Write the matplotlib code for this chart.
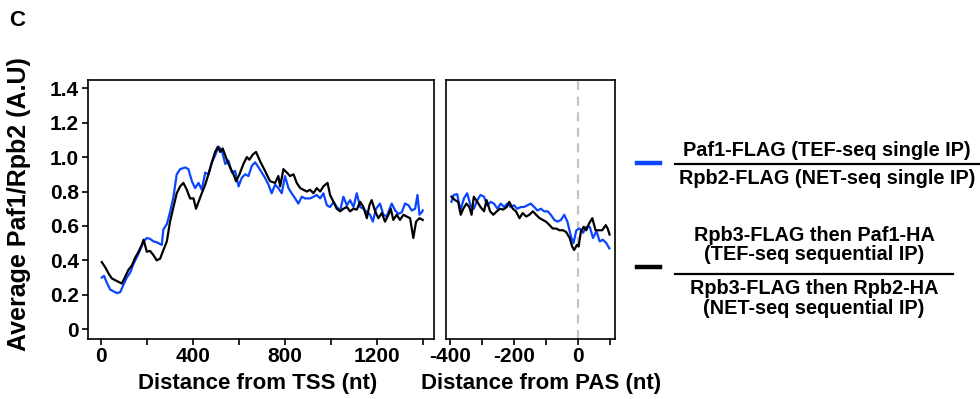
import matplotlib
matplotlib.use("Agg")
import matplotlib.pyplot as plt
from matplotlib.lines import Line2D
from matplotlib.ticker import FixedLocator

plt.rcParams['font.family'] = ['Liberation Sans', 'DejaVu Sans']
plt.rcParams['font.weight'] = 'bold'

# ---- data: distance from TSS (left panel) ----
tss_blue_x = [4, 14, 26, 41, 55, 70, 84, 99, 113, 128, 142, 157, 171, 186, 200, 214, 229, 243,
              265, 272, 287, 301, 316, 330, 345, 367, 381, 396, 410, 425, 439, 454, 468, 483,
              497, 512, 526, 541, 555, 570, 584, 599, 613, 628, 642, 657, 671, 686, 700, 714,
              729, 743, 758, 772, 787, 801, 816, 830, 845, 859, 874, 888, 910, 925, 939, 954,
              968, 983, 997, 1012, 1026, 1041, 1055, 1070, 1084, 1099, 1113, 1128, 1142, 1157,
              1171, 1183, 1197, 1214, 1229, 1243, 1265, 1280, 1294, 1309, 1323, 1338, 1352,
              1367, 1377, 1386, 1396, 1400]
tss_blue_y = [0.30, 0.31, 0.27, 0.23, 0.22, 0.21, 0.215, 0.26, 0.30, 0.33, 0.38, 0.42, 0.46,
              0.51, 0.53, 0.525, 0.51, 0.505, 0.49, 0.58, 0.61, 0.68, 0.77, 0.90, 0.93, 0.94,
              0.93, 0.86, 0.82, 0.85, 0.81, 0.91, 0.90, 0.97, 1.01, 1.06, 1.04, 0.96, 0.98,
              0.91, 0.92, 0.83, 0.88, 0.90, 0.89, 0.95, 0.97, 0.94, 0.91, 0.88, 0.84, 0.79,
              0.84, 0.82, 0.79, 0.89, 0.82, 0.79, 0.76, 0.73, 0.77, 0.76, 0.76, 0.77, 0.78,
              0.76, 0.79, 0.72, 0.71, 0.74, 0.71, 0.69, 0.77, 0.72, 0.75, 0.71, 0.79, 0.71,
              0.70, 0.68, 0.665, 0.625, 0.70, 0.73, 0.665, 0.655, 0.73, 0.69, 0.67, 0.68,
              0.73, 0.72, 0.69, 0.70, 0.78, 0.665, 0.68, 0.69]

tss_black_x = [4, 19, 33, 48, 62, 77, 91, 106, 120, 135, 149, 164, 178, 186, 200, 214, 229,
               243, 258, 272, 287, 301, 316, 330, 345, 359, 374, 388, 403, 414, 425, 439, 454,
               468, 483, 497, 509, 519, 530, 548, 562, 577, 588, 603, 620, 635, 646, 661, 675,
               693, 714, 736, 758, 772, 780, 794, 809, 823, 838, 852, 867, 881, 896, 910, 925,
               939, 954, 968, 986, 997, 1012, 1026, 1041, 1055, 1070, 1084, 1099, 1113, 1128,
               1142, 1157, 1168, 1178, 1193, 1207, 1222, 1236, 1251, 1261, 1272, 1287, 1301,
               1316, 1330, 1345, 1359, 1371, 1386, 1400]
tss_black_y = [0.39, 0.36, 0.325, 0.295, 0.285, 0.275, 0.265, 0.305, 0.345, 0.37, 0.415,
               0.45, 0.49, 0.52, 0.45, 0.455, 0.43, 0.40, 0.41, 0.46, 0.51, 0.625, 0.71, 0.79,
               0.83, 0.85, 0.81, 0.76, 0.76, 0.70, 0.74, 0.79, 0.84, 0.90, 0.97, 1.03, 1.06,
               1.03, 1.05, 0.985, 0.94, 0.90, 0.86, 0.90, 0.96, 1.00, 0.985, 1.015, 1.03,
               0.975, 0.92, 0.86, 0.85, 0.89, 0.83, 0.93, 0.91, 0.89, 0.90, 0.85, 0.82, 0.81,
               0.80, 0.81, 0.79, 0.82, 0.80, 0.83, 0.85, 0.78, 0.74, 0.70, 0.685, 0.70, 0.71,
               0.685, 0.70, 0.695, 0.74, 0.71, 0.645, 0.72, 0.75, 0.685, 0.645, 0.675, 0.625,
               0.665, 0.70, 0.635, 0.665, 0.635, 0.665, 0.655, 0.645, 0.53, 0.625, 0.645, 0.635]

# ---- data: distance from PAS (right panel) ----
pas_blue_x = [-397, -390, -379, -369, -358, -348, -337, -327, -316, -306, -295, -285, -274,
              -264, -253, -243, -232, -222, -212, -201, -191, -180, -170, -159, -149, -138,
              -128, -117, -107, -96, -86, -75, -65, -54, -44, -34, -23, -15, -6, 4, 15, 25,
              36, 46, 57, 67, 77, 88, 97]
pas_blue_y = [0.74, 0.78, 0.785, 0.69, 0.76, 0.79, 0.72, 0.70, 0.75, 0.78, 0.77, 0.72, 0.74,
              0.73, 0.70, 0.73, 0.71, 0.73, 0.71, 0.72, 0.70, 0.71, 0.71, 0.72, 0.73, 0.71,
              0.69, 0.70, 0.685, 0.685, 0.665, 0.635, 0.625, 0.635, 0.665, 0.625, 0.54, 0.50,
              0.575, 0.585, 0.56, 0.595, 0.595, 0.53, 0.57, 0.51, 0.52, 0.50, 0.47]

pas_black_x = [-397, -386, -376, -368, -360, -350, -341, -334, -327, -316, -306, -295, -287,
               -276, -266, -255, -245, -235, -224, -216, -205, -195, -184, -174, -163, -153,
               -142, -132, -121, -111, -101, -90, -80, -69, -59, -48, -38, -27, -19, -13, -4,
               1, 8, 17, 25, 34, 44, 54, 65, 75, 86, 92, 98]
pas_black_y = [0.77, 0.75, 0.74, 0.665, 0.70, 0.73, 0.71, 0.665, 0.77, 0.74, 0.71, 0.685,
               0.75, 0.685, 0.665, 0.685, 0.70, 0.695, 0.71, 0.74, 0.70, 0.685, 0.645, 0.675,
               0.655, 0.665, 0.685, 0.665, 0.645, 0.635, 0.625, 0.605, 0.585, 0.585, 0.575,
               0.575, 0.565, 0.53, 0.48, 0.46, 0.49, 0.48, 0.565, 0.595, 0.575, 0.615, 0.645,
               0.575, 0.575, 0.575, 0.605, 0.585, 0.55]

y_ticks = [0, 0.2, 0.4, 0.6, 0.8, 1.0, 1.2, 1.4]
y_tick_labels = ['0', '0.2', '0.4', '0.6', '0.8', '1.0', '1.2', '1.4']
tss_ticks = [0, 400, 800, 1200]
tss_minor = [200, 600, 1000, 1400]
pas_ticks = [-400, -200, 0]
pas_minor = [-300, -100, 100]

legend_blue_num = 'Paf1-FLAG (TEF-seq single IP)'
legend_blue_den = 'Rpb2-FLAG (NET-seq single IP)'
legend_black_num = 'Rpb3-FLAG then Paf1-HA\n(TEF-seq sequential IP)'
legend_black_den = 'Rpb3-FLAG then Rpb2-HA\n(NET-seq sequential IP)'

BLUE = '#0a46ff'
W, H = 980, 399
fig = plt.figure(figsize=(W / 100, H / 100), dpi=100)

def fx(px):
    return px / W

def fy(py):
    return 1 - py / H

ax1 = fig.add_axes([fx(87.5), fy(338.5), fx(434) - fx(87.5), fy(80) - fy(338.5)])
ax2 = fig.add_axes([fx(445.5), fy(338.5), fx(614.5) - fx(445.5), fy(80) - fy(338.5)])

ax1.plot(tss_blue_x, tss_blue_y, color=BLUE, lw=1.6)
ax1.plot(tss_black_x, tss_black_y, color='black', lw=1.6)
ax2.axvline(0, color='#c4c4c4', lw=1.6, ls=(0, (4, 3)))
ax2.plot(pas_blue_x, pas_blue_y, color=BLUE, lw=1.6)
ax2.plot(pas_black_x, pas_black_y, color='black', lw=1.6)

ylim = (-0.054, 1.448)
for ax in (ax1, ax2):
    ax.set_ylim(*ylim)
    for s in ax.spines.values():
        s.set_linewidth(1.2)
    ax.tick_params(which='both', direction='out', length=4, width=1.2, labelsize=15, pad=2)

ax1.set_xlim(-58, 1449)
ax1.set_xticks(tss_ticks)
ax1.set_xticklabels([str(t) for t in tss_ticks], fontweight='bold')
ax1.xaxis.set_minor_locator(FixedLocator(tss_minor))
ax1.set_yticks(y_ticks)
ax1.set_yticklabels(y_tick_labels, fontweight='bold')

ax2.set_xlim(-415.6, 113.4)
ax2.set_xticks(pas_ticks)
ax2.set_xticklabels([str(t) for t in pas_ticks], fontweight='bold')
ax2.xaxis.set_minor_locator(FixedLocator(pas_minor))
ax2.set_yticks([])

fig.text(fx(258), fy(383), 'Distance from TSS (nt)', fontsize=16, fontweight='bold',
         ha='center', va='center')
fig.text(fx(541), fy(383), 'Distance from PAS (nt)', fontsize=16, fontweight='bold',
         ha='center', va='center')
fig.text(fx(19), fy(204), 'Average Paf1/Rpb2 (A.U)', fontsize=18, fontweight='bold',
         ha='center', va='center', rotation=90)
fig.text(fx(9), fy(21), 'C', fontsize=16, fontweight='bold', ha='left', va='center')

# legend (fraction style)
fig.add_artist(Line2D([fx(637), fx(660)], [fy(163), fy(163)], color=BLUE, lw=3.2))
fig.add_artist(Line2D([fx(675), fx(980)], [fy(164), fy(164)], color='black', lw=1.6))
fig.text(fx(827), fy(150), legend_blue_num, fontsize=14.3, fontweight='bold', ha='center', va='center')
fig.text(fx(827), fy(178), legend_blue_den, fontsize=14.3, fontweight='bold', ha='center', va='center')

fig.add_artist(Line2D([fx(637), fx(660)], [fy(267), fy(267)], color='black', lw=3.2))
fig.add_artist(Line2D([fx(675), fx(953)], [fy(274), fy(274)], color='black', lw=1.6))
fig.text(fx(814), fy(245), legend_black_num, fontsize=14.3, fontweight='bold', ha='center',
         va='center', linespacing=1.02)
fig.text(fx(814), fy(298.5), legend_black_den, fontsize=14.3, fontweight='bold', ha='center',
         va='center', linespacing=1.02)

fig.savefig('out.png', dpi=100)
